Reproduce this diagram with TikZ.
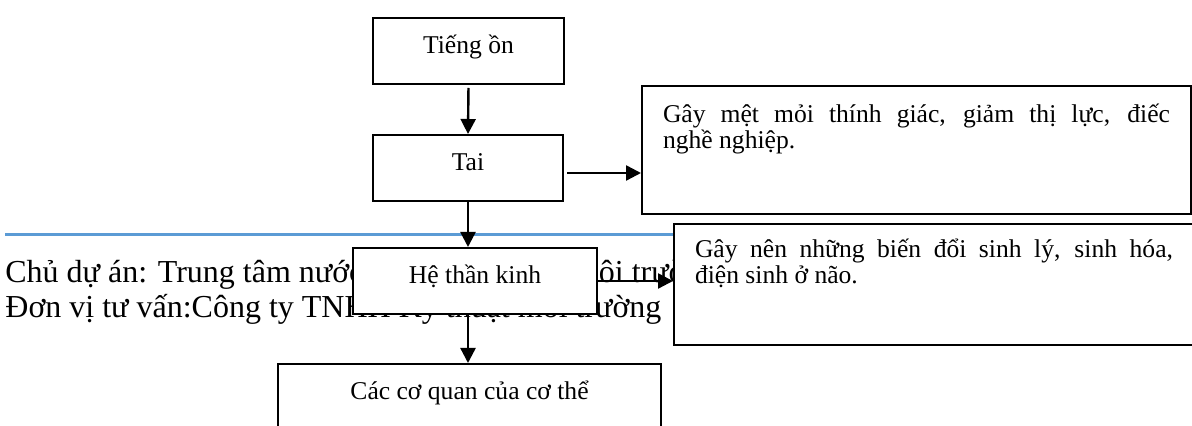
\documentclass[tikz,border=0pt]{standalone}
\usepackage{fontspec}
\setmainfont{Liberation Serif}
\usetikzlibrary{arrows.meta}
\definecolor{ruleblue}{RGB}{91,155,213}
\def\boxfont{\fontsize{12.8}{12.85}\selectfont}
\def\headfont{\fontsize{16}{17.5}\selectfont}
\tikzstyle{stepbox}=[draw, fill=white, line width=1pt, inner sep=0pt,
                     font=\boxfont, align=center, anchor=north west,
                     text height=18pt, text depth=15pt]
\tikzstyle{effect}=[draw, fill=white, line width=1pt, inner xsep=10.5pt,
                    inner ysep=0pt, font=\boxfont, align=justify, anchor=north west]
\tikzstyle{headline}=[anchor=base west, inner sep=0pt, font=\headfont]
\tikzstyle{flow}=[line width=1.2pt, -{Triangle[length=7.5pt,width=7.5pt]}]

\begin{document}
\begin{tikzpicture}[x=0.5pt, y=-0.5pt]
  \useasboundingbox (0,0) rectangle (1192,426);

  % page header behind the chart
  \node[headline] (chuduan) at (5,283) {Chủ dự án: Trung tâm nước sạch và vệ sinh môi trường nông thôn};
  \node[headline] (donvi) at (5,318) {Đơn vị tư vấn:Công ty TNHH Kỹ thuật môi trường};
  \draw[ruleblue, line width=1.3pt] (5,234.5) -- (1192,234.5);

  \node[stepbox, minimum width=95.5pt] (tieng) at (372,17) {Tiếng ồn};
  \node[stepbox, minimum width=95pt] (tai) at (372,134) {Tai};
  \node[stepbox, minimum width=122pt] (hethan) at (352,247) {Hệ thần kinh};
  \node[stepbox, minimum width=191.5pt] (coquan) at (277,363) {Các cơ quan của cơ thể};

  \node[effect, text width=253.5pt, text height=18.5pt, text depth=45.5pt] (thinhgiac) at (641,85)
    {Gây mệt mỏi thính giác, giảm thị lực, điếc\linebreak nghề nghiệp.};
  \node[effect, text width=239pt, text height=17pt, text depth=43.5pt] (sinhly) at (673,223)
    {Gây nên những biến đổi sinh lý, sinh hóa,\linebreak điện sinh ở não.};

  \draw[flow, shorten <=1.5pt] (tieng.south) -- (tai.north);
  \draw[flow] (tai.south) -- (tai.south |- hethan.north);
  \draw[flow] (tai.south |- hethan.south) -- (tai.south |- coquan.north);
  \draw[flow, shorten <=1.5pt] ([yshift=-2.5pt]tai.east) -- ([yshift=-2.5pt]tai.east -| thinhgiac.west);
  \draw[flow] (hethan.east) -- (hethan.east -| sinhly.west);

\end{tikzpicture}
\end{document}
